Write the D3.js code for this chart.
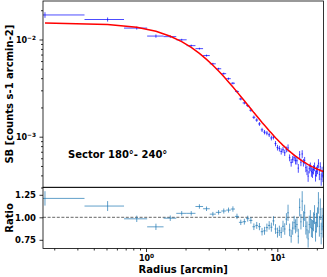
<!DOCTYPE html>
<html>
<head>
<meta charset="utf-8">
<script src="https://cdn.jsdelivr.net/npm/d3@7"></script>
<style>
  body { margin: 0; background: #fff; }
  text { font-family: "DejaVu Sans", sans-serif; font-weight: bold; fill: #000; }
</style>
</head>
<body>
<div id="chart"></div>
<script>
// bin centres (arcmin) and half width
const radius = [0.17, 0.51, 0.85, 1.19, 1.53, 1.87, 2.21, 2.55, 2.89, 3.23,
  3.57, 3.91, 4.25, 4.59, 4.93, 5.27, 5.61, 5.95, 6.29, 6.63,
  6.97, 7.31, 7.65, 7.99, 8.33, 8.67, 9.01, 9.35, 9.69, 10.03,
  10.37, 10.71, 11.05, 11.39, 11.73, 12.07, 12.41, 12.75, 13.09, 13.43,
  13.77, 14.11, 14.45, 14.79, 15.13, 15.47, 15.81, 16.15, 16.49, 16.83,
  17.17, 17.51, 17.85, 18.19, 18.53, 18.87, 19.21, 19.55, 19.89, 20.23,
  20.57, 20.91, 21.25, 21.59, 21.93, 22.27, 22.61];
const radiusErr = 0.17;

// fitted model (red line), counts s-1 arcmin-2
const model = [0.01478, 0.01427, 0.01333, 0.01213, 0.01081, 0.00951, 0.00828, 0.00719, 0.00624, 0.00543,
  0.00474, 0.00416, 0.00366, 0.00325, 0.00289, 0.00259, 0.00234, 0.00212, 0.00194, 0.00177,
  0.00163, 0.00151, 0.00140, 0.00131, 0.00123, 0.00115, 0.00109, 0.00103, 0.000976, 0.000930,
  0.000888, 0.000850, 0.000815, 0.000785, 0.000756, 0.000730, 0.000707, 0.000685, 0.000666, 0.000647,
  0.000630, 0.000615, 0.000601, 0.000588, 0.000575, 0.000563, 0.000553, 0.000543, 0.000534, 0.000525,
  0.000517, 0.000510, 0.000502, 0.000496, 0.000489, 0.000484, 0.000478, 0.000473, 0.000468, 0.000463,
  0.000459, 0.000455, 0.000451, 0.000447, 0.000444, 0.000440, 0.000437];

// data / model
const ratio = [1.21, 1.125, 0.983, 0.894, 0.99, 1.044, 1.044, 1.12, 1.095, 1.035,
  1.055, 1.07, 1.08, 1.092, 1.01, 0.944, 0.951, 0.985, 0.965, 0.895,
  0.91, 0.896, 0.84, 0.85, 0.885, 0.91, 0.89, 0.96, 0.87, 0.83,
  0.85, 0.83, 0.90, 0.87, 0.98, 1.05, 0.86, 0.79, 0.88, 0.94,
  0.90, 0.92, 0.79, 1.11, 0.95, 1.18, 0.98, 1.05, 0.90, 0.86,
  0.76, 0.92, 0.98, 0.88, 0.87, 0.95, 1.03, 0.84, 0.94, 1.00,
  1.16, 0.90, 1.09, 0.82, 0.98, 0.90, 1.12];
const ratioErr = [0.08, 0.055, 0.035, 0.035, 0.03, 0.025, 0.025, 0.025, 0.025, 0.025,
  0.025, 0.028, 0.028, 0.03, 0.03, 0.03, 0.032, 0.033, 0.035, 0.037,
  0.038, 0.04, 0.042, 0.044, 0.045, 0.047, 0.05, 0.052, 0.054, 0.055,
  0.057, 0.06, 0.062, 0.064, 0.066, 0.09, 0.07, 0.072, 0.074, 0.076,
  0.078, 0.08, 0.082, 0.1, 0.085, 0.11, 0.088, 0.09, 0.092, 0.094,
  0.096, 0.098, 0.1, 0.1, 0.1, 0.105, 0.105, 0.11, 0.11, 0.11,
  0.12, 0.115, 0.12, 0.12, 0.125, 0.125, 0.13];

const sbMajor = [1e-3, 1e-2];
const sbMinor = [3e-4, 4e-4, 5e-4, 6e-4, 7e-4, 8e-4, 9e-4,
  2e-3, 3e-3, 4e-3, 5e-3, 6e-3, 7e-3, 8e-3, 9e-3, 2e-2];
const ratioTicks = [0.75, 1.00, 1.25];
const radiusMajor = [1, 10];
const radiusMinor = [0.2, 0.3, 0.4, 0.5, 0.6, 0.7, 0.8, 0.9, 2, 3, 4, 5, 6, 7, 8, 9, 20];

const width = 327, height = 277;
const left = 43, right = 323.5;
const topY = 1, midY = 187.3, bottomY = 248.5;

const svg = d3.select("#chart").append("svg")
    .attr("width", width)
    .attr("height", height);

const xScale = d3.scaleLog().domain([0.1642, 22.48]).range([left, right]);
const yScale = d3.scaleLog().domain([3.016e-4, 0.02489]).range([midY, topY]);
const rScale = d3.scaleLinear().domain([0.6533, 1.3333]).range([bottomY, midY]);

const defs = svg.append("defs");
defs.append("clipPath").attr("id", "clipTop").append("rect")
    .attr("x", left).attr("y", topY).attr("width", right - left).attr("height", midY - topY);
defs.append("clipPath").attr("id", "clipBot").append("rect")
    .attr("x", left).attr("y", midY).attr("width", right - left).attr("height", bottomY - midY);

const idx = d3.range(radius.length);

// top panel: data error bars
let topG = svg.append("g").attr("clip-path", "url(#clipTop)");
let sbG = topG.append("g").attr("stroke", "#0000ff").attr("stroke-opacity", 0.7).attr("stroke-width", 1);
sbG.selectAll("line.xe").data(idx).enter().append("line").attr("class", "xe")
    .attr("x1", i => xScale(Math.max(radius[i] - radiusErr, 0.01)))
    .attr("x2", i => xScale(radius[i] + radiusErr))
    .attr("y1", i => yScale(ratio[i] * model[i]))
    .attr("y2", i => yScale(ratio[i] * model[i]));
sbG.selectAll("line.ye").data(idx).enter().append("line").attr("class", "ye")
    .attr("x1", i => xScale(radius[i]))
    .attr("x2", i => xScale(radius[i]))
    .attr("y1", i => yScale((ratio[i] - ratioErr[i]) * model[i]))
    .attr("y2", i => yScale((ratio[i] + ratioErr[i]) * model[i]));

// model line
let line = d3.line().x(i => xScale(radius[i])).y(i => yScale(model[i]));
topG.append("path").datum(idx)
    .attr("d", line)
    .attr("fill", "none")
    .attr("stroke", "#ff0000")
    .attr("stroke-width", 1.5);

// bottom panel: ratio
let botG = svg.append("g").attr("clip-path", "url(#clipBot)");
botG.append("line")
    .attr("x1", left).attr("x2", right)
    .attr("y1", rScale(1)).attr("y2", rScale(1))
    .attr("stroke", "#555").attr("stroke-width", 0.9)
    .attr("stroke-dasharray", "3,1.6");
let rG = botG.append("g").attr("stroke", "#1f77b4").attr("stroke-opacity", 0.7).attr("stroke-width", 1);
rG.selectAll("line.xe").data(idx).enter().append("line").attr("class", "xe")
    .attr("x1", i => xScale(Math.max(radius[i] - radiusErr, 0.01)))
    .attr("x2", i => xScale(radius[i] + radiusErr))
    .attr("y1", i => rScale(ratio[i]))
    .attr("y2", i => rScale(ratio[i]));
rG.selectAll("line.ye").data(idx).enter().append("line").attr("class", "ye")
    .attr("x1", i => xScale(radius[i]))
    .attr("x2", i => xScale(radius[i]))
    .attr("y1", i => rScale(ratio[i] - ratioErr[i]))
    .attr("y2", i => rScale(ratio[i] + ratioErr[i]));

// superscript helper for log labels
function powLabel(sel, expOf) {
    sel.each(function(d) {
        let t = d3.select(this);
        t.text("");
        t.append("tspan").text("10");
        t.append("tspan").attr("dy", "-0.45em").attr("font-size", "5.8px").text(expOf(d));
    });
}

// axes
let yMajAx = svg.append("g").attr("transform", `translate(${left},0)`)
    .call(d3.axisLeft(yScale).tickValues(sbMajor).tickSize(3.5).tickPadding(3.5));
yMajAx.selectAll("text").attr("font-size", "8px").attr("font-family", null);
powLabel(yMajAx.selectAll(".tick text"), d => "\u2212" + Math.round(-Math.log10(d)));
svg.append("g").attr("transform", `translate(${left},0)`)
    .call(d3.axisLeft(yScale).tickValues(sbMinor).tickSize(2).tickFormat(""));

let rAx = svg.append("g").attr("transform", `translate(${left},0)`)
    .call(d3.axisLeft(rScale).tickValues(ratioTicks).tickSize(3.5).tickPadding(3.5).tickFormat(d3.format(".2f")));
rAx.selectAll("text").attr("font-size", "8.5px").attr("font-family", null);

let xMajAx = svg.append("g").attr("transform", `translate(0,${bottomY})`)
    .call(d3.axisBottom(xScale).tickValues(radiusMajor).tickSize(3.5).tickPadding(3));
xMajAx.selectAll("text").attr("font-size", "8px").attr("font-family", null);
powLabel(xMajAx.selectAll(".tick text"), d => String(Math.round(Math.log10(d))));
svg.append("g").attr("transform", `translate(0,${bottomY})`)
    .call(d3.axisBottom(xScale).tickValues(radiusMinor).tickSize(2).tickFormat(""));

svg.selectAll(".domain").remove();
svg.selectAll(".tick line").attr("stroke", "#000").attr("stroke-width", 0.8);

// frames
[[topY, midY], [midY, bottomY]].forEach(([a, b]) => {
    svg.append("rect")
        .attr("x", left).attr("y", a)
        .attr("width", right - left).attr("height", b - a)
        .attr("fill", "none").attr("stroke", "#000").attr("stroke-width", 0.8);
});

// labels
svg.append("text")
    .attr("transform", `translate(12.5,${(topY + midY) / 2}) rotate(-90)`)
    .attr("text-anchor", "middle").attr("font-size", "10px")
    .text("SB [counts s-1 arcmin-2]");
svg.append("text")
    .attr("transform", `translate(12.5,${(midY + bottomY) / 2}) rotate(-90)`)
    .attr("text-anchor", "middle").attr("font-size", "10px")
    .text("Ratio");
svg.append("text")
    .attr("x", (left + right) / 2).attr("y", 273)
    .attr("text-anchor", "middle").attr("font-size", "10px")
    .text("Radius [arcmin]");
svg.append("text")
    .attr("x", 68).attr("y", 158)
    .attr("font-size", "10px")
    .text("Sector 180°- 240°");
</script>
</body>
</html>
